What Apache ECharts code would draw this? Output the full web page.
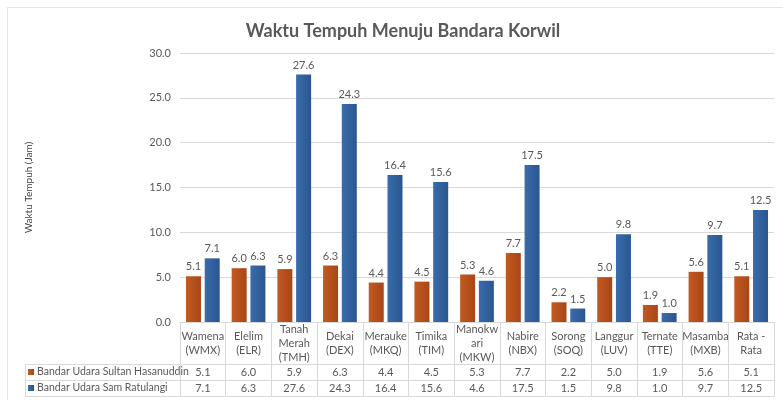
<!DOCTYPE html>
<html>
<head>
<meta charset="utf-8">
<script src="https://cdn.jsdelivr.net/npm/echarts@6/dist/echarts.min.js"></script>
<style>
  html, body { margin: 0; padding: 0; background: #fff; }
  #chart { width: 783px; height: 400px; }
</style>
</head>
<body>
<div id="chart"></div>
<script>
// data
const categories = [
  'Wamena\n(WMX)', 'Elelim\n(ELR)', 'Tanah\nMerah\n(TMH)', 'Dekai\n(DEX)',
  'Merauke\n(MKQ)', 'Timika\n(TIM)', 'Manokw\nari\n(MKW)', 'Nabire\n(NBX)',
  'Sorong\n(SOQ)', 'Langgur\n(LUV)', 'Ternate\n(TTE)', 'Masamba\n(MXB)', 'Rata -\nRata'
];
const seriesNames = ['Bandar Udara Sultan Hasanuddin', 'Bandar Udara Sam Ratulangi'];
const hasanuddin = [5.1, 6.0, 5.9, 6.3, 4.4, 4.5, 5.3, 7.7, 2.2, 5.0, 1.9, 5.6, 5.1];
const ratulangi = [7.1, 6.3, 27.6, 24.3, 16.4, 15.6, 4.6, 17.5, 1.5, 9.8, 1.0, 9.7, 12.5];
const yTicks = [0, 5, 10, 15, 20, 25, 30];

const FONT = 'Lato';
const TXT = '#595959';
const LINE = '#d9d9d9';

// layout of the plot and the data table under it
const gridLeft = 180, gridTop = 53, gridBottomY = 322;
const catRow = 42, valRow = 16;
const tableLeft = 25;

const chart = echarts.init(document.getElementById('chart'));

const fmt = v => Number(v).toFixed(1);

const tableAxis = (offset, values, tickLen, showLabel) => ({
  type: 'category',
  data: categories,
  position: 'bottom',
  offset: offset,
  axisLine: { show: true, lineStyle: { color: LINE } },
  axisTick: { show: true, length: tickLen, interval: 0, lineStyle: { color: LINE } },
  axisLabel: {
    show: showLabel,
    interval: 0,
    margin: valRow / 2,
    verticalAlign: 'middle',
    fontFamily: FONT, fontSize: 11, color: TXT,
    formatter: (v, i) => values ? fmt(values[i]) : ''
  },
  splitLine: { show: false }
});

const barColor = (a, b) => new echarts.graphic.LinearGradient(0, 0, 1, 0, [
  { offset: 0, color: a }, { offset: 1, color: b }
]);

const barLabel = {
  show: true,
  position: 'top',
  distance: 4,
  fontFamily: FONT, fontSize: 11, color: TXT,
  formatter: p => fmt(p.value)
};

const y1 = gridBottomY + catRow;
const y2 = y1 + valRow;
const y3 = y2 + valRow;

// one legend per table row, so each key sits in its own row
const rowLegend = (name, top) => ({
  show: true,
  left: 28,
  top: top,
  padding: 0,
  itemWidth: 6,
  itemHeight: 6,
  icon: 'rect',
  textStyle: { fontFamily: FONT, fontSize: 10.5, color: TXT, lineHeight: valRow, padding: [0, 0, 0, -2] },
  data: [name]
});

const option = {
  backgroundColor: '#fff',
  animation: false,
  title: {
    text: 'Waktu Tempuh Menuju Bandara Korwil',
    left: 398,
    textAlign: 'center',
    top: 17,
    textStyle: { fontFamily: FONT, fontSize: 18, fontWeight: 'bold', color: '#595959' }
  },
  legend: [rowLegend(seriesNames[0], y1), rowLegend(seriesNames[1], y2)],
  grid: { left: gridLeft, right: 9, top: gridTop, bottom: 400 - gridBottomY },
  xAxis: [
    {
      type: 'category',
      data: categories,
      position: 'bottom',
      axisLine: { show: true, lineStyle: { color: LINE } },
      axisTick: { show: true, length: catRow, interval: 0, lineStyle: { color: LINE } },
      axisLabel: {
        interval: 0,
        margin: catRow / 2,
        verticalAlign: 'middle',
        lineHeight: 14,
        fontFamily: FONT, fontSize: 11, color: TXT
      }
    },
    tableAxis(catRow, hasanuddin, valRow, true),
    tableAxis(catRow + valRow, ratulangi, valRow, true),
    tableAxis(catRow + valRow * 2, null, 0, false)
  ],
  yAxis: {
    type: 'value',
    min: yTicks[0],
    max: yTicks[yTicks.length - 1],
    interval: yTicks[1] - yTicks[0],
    name: 'Waktu Tempuh (Jam)',
    nameLocation: 'middle',
    nameGap: gridLeft - 34,
    nameTextStyle: { fontFamily: FONT, fontSize: 10, color: '#404040' },
    axisLine: { show: false },
    axisTick: { show: false },
    axisLabel: { margin: 9, fontFamily: FONT, fontSize: 11, color: TXT, formatter: v => fmt(v) },
    splitLine: { lineStyle: { color: LINE } }
  },
  series: [
    {
      name: seriesNames[0],
      type: 'bar',
      data: hasanuddin,
      barWidth: 15,
      barGap: '25%',
      itemStyle: { color: barColor('#c25a22', '#a94616') },
      label: barLabel
    },
    {
      name: seriesNames[1],
      type: 'bar',
      data: ratulangi,
      barWidth: 15,
      itemStyle: { color: barColor('#3a6cab', '#2a5690') },
      label: barLabel
    }
  ],
  graphic: [
    // outer chart frame (top and left edges visible in the reference)
    { type: 'line', shape: { x1: 7, y1: 7.5, x2: 783, y2: 7.5 }, style: { stroke: '#e6e6e6', lineWidth: 1 } },
    { type: 'line', shape: { x1: 7.5, y1: 7, x2: 7.5, y2: 400 }, style: { stroke: '#e6e6e6', lineWidth: 1 } },
    // left part of the data table (legend column)
    { type: 'line', shape: { x1: tableLeft, y1: y1 + 0.5, x2: gridLeft, y2: y1 + 0.5 }, style: { stroke: LINE, lineWidth: 1 } },
    { type: 'line', shape: { x1: tableLeft, y1: y2 + 0.5, x2: gridLeft, y2: y2 + 0.5 }, style: { stroke: LINE, lineWidth: 1 } },
    { type: 'line', shape: { x1: tableLeft, y1: y3 + 0.5, x2: gridLeft, y2: y3 + 0.5 }, style: { stroke: LINE, lineWidth: 1 } },
    { type: 'line', shape: { x1: tableLeft + 0.5, y1: y1, x2: tableLeft + 0.5, y2: y3 }, style: { stroke: LINE, lineWidth: 1 } }
  ]
};

chart.setOption(option);
</script>
</body>
</html>
